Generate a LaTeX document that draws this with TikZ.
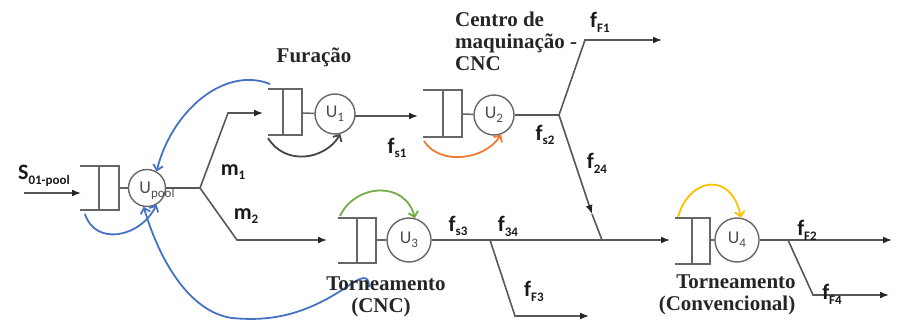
\documentclass[tikz,border=0pt]{standalone}
\usepackage{fontspec}
\setmainfont{Liberation Serif}
\newfontfamily\lblfont{Carlito}
\usetikzlibrary{arrows.meta}
\definecolor{lngray}{HTML}{585858}
\definecolor{qgray}{HTML}{666666}
\definecolor{ublue}{HTML}{4472C4}
\definecolor{uorange}{HTML}{ED7D31}
\definecolor{ugreen}{HTML}{70AD47}
\definecolor{uyellow}{HTML}{FFC000}
\definecolor{udark}{HTML}{454545}
\newcommand\mysub[1]{\raisebox{-0.45ex}{\fontsize{13}{13}\selectfont #1}}
\newcommand\mysubu[1]{\raisebox{-0.45ex}{\fontsize{13}{13}\selectfont #1}}
\tikzset{
  ln/.style={draw=lngray, line width=1.6pt},
  arr/.style={ln, -{Latex[length=9pt,width=7pt,color=black!85]}},
  qline/.style={draw=qgray, line width=1.5pt},
  srv/.style={circle, draw=qgray, line width=1.4pt, minimum size=40pt, inner sep=0pt,
     font=\lblfont\fontsize{18}{18}\selectfont, text=black!70},
  srvbig/.style={srv, minimum size=44pt},
  flab/.style={font=\lblfont\bfseries\fontsize{22}{22}\selectfont, text=black!90, inner sep=0pt},
  ttl/.style={font=\bfseries\fontsize{21}{22}\selectfont, text=black!85, inner sep=0pt, anchor=base},
  carr/.style={line width=1.8pt, -{Straight Barb[length=5pt,width=10pt]}},
}
\begin{document}
\begin{tikzpicture}[x=1pt,y=-1pt]
\useasboundingbox (0,0) rectangle (902,324);

% ---------- queues ----------
\draw[qline] (80,166) -| (119,210) -- (80,210); \draw[qline] (99,166) -- (99,210);
\draw[qline] (268,89) -| (302,135) -- (268,135); \draw[qline] (283,89) -- (283,135);
\draw[qline] (423,90) -| (462,137) -- (423,137); \draw[qline] (443,90) -- (443,137);
\draw[qline] (338,218) -| (376,263) -- (338,263); \draw[qline] (357,218) -- (357,263);
\draw[qline] (675,218) -| (710,264) -- (675,264); \draw[qline] (692,218) -- (692,264);
\coordinate (P0r) at (119,188);
\coordinate (Q1r) at (302,113);
\coordinate (Q2r) at (462,114);
\coordinate (Q3r) at (376,240);
\coordinate (Q4r) at (710,240);

% ---------- servers ----------
\node[srv, minimum size=37pt] (Up) at (147,188) {};
\node[font=\lblfont\fontsize{18}{18}\selectfont, text=black!70, inner sep=0pt] (Uplab) at (157,191) {U\mysubu{pool}};
\node[srv] (U1) at (335,114) {U\mysubu{1}};
\node[srv] (U2) at (494,115) {U\mysubu{2}};
\node[srvbig] (U3) at (409,240) {U\mysubu{3}};
\node[srvbig] (U4) at (737,240) {U\mysubu{4}};

\draw[qline] (P0r) -- (Up);
\draw[qline] (Q1r) -- (U1);
\draw[qline] (Q2r) -- (U2);
\draw[qline] (Q3r) -- (U3);
\draw[qline] (Q4r) -- (U4);

% ---------- coordinates of connectors ----------
\coordinate (Sin) at (24,193);
\coordinate (Pin) at (81,193);
\coordinate (B0) at (200,188);
\coordinate (K1) at (228,113);
\coordinate (Q1in) at (263,113);
\coordinate (K2) at (237,240);
\coordinate (Q3in) at (327,240);
\coordinate (Q2in) at (418,116);
\coordinate (U1o) at (355,116);
\coordinate (B2) at (559,115);
\coordinate (K3) at (585,40);
\coordinate (F1) at (662,40);
\coordinate (M24) at (592,214);
\coordinate (J24) at (602,240);
\coordinate (B3) at (490,240);
\coordinate (K4) at (515,316);
\coordinate (F3) at (589,316);
\coordinate (Q4in) at (670,240);
\coordinate (B4) at (788,240);
\coordinate (F2) at (892,240);
\coordinate (K5) at (813,295);
\coordinate (F4) at (889,295);

% ---------- connectors ----------
\draw[arr] (Sin) -- (Pin);
\draw[ln] (Up) -- (B0);
\draw[arr] (B0) -- (K1) -- (Q1in);
\draw[arr] (B0) -- (K2) -- (Q3in);
\draw[arr] (U1o) -- (Q2in);
\draw[ln] (U2) -- (B2);
\draw[arr] (B2) -- (K3) -- (F1);
\draw[arr] (B2) -- (M24);
\draw[ln] (M24) -- (J24);
\draw[arr] (U3) -- (Q4in);
\draw[arr] (B3) -- (K4) -- (F3);
\draw[arr] (U4) -- (F2);
\draw[arr] (B4) -- (K5) -- (F4);

% ---------- curved arrows ----------
\draw[carr, udark] (268,138) .. controls (285,166) and (325,160) .. (U1.-75);
\draw[carr, uorange] (424,141) .. controls (440,166) and (485,160) .. (U2.-70);
\draw[carr, ugreen] (340,216) .. controls (355,184) and (405,180) .. (U3.75);
\draw[carr, uyellow] (678,217) .. controls (690,176) and (732,172) .. (U4.80);
\draw[carr, ublue] (270,84) .. controls (225,66) and (172,110) .. (Up.60);
\draw[carr, ublue] (85,214) .. controls (95,246) and (140,238) .. (Up.-60);
\draw[carr, ublue] (369,287) .. controls (369,274) and (362,276) .. (345,288)
   .. controls (300,318) and (265,321) .. (232,318)
   .. controls (190,312) and (160,262) .. (Up.-100);

% ---------- labels ----------
\node[flab] (lS) at (44,176) {S\mysub{01-pool}};
\node[flab] (lm1) at (233,172) {m\mysub{1}};
\node[flab] (lm2) at (246,216) {m\mysub{2}};
\node[flab] (lfs1) at (397,148) {f\mysub{s1}};
\node[flab] (lfs2) at (545,135) {f\mysub{s2}};
\node[flab] (lf24) at (597,163) {f\mysub{24}};
\node[flab] (lfF1) at (600,22) {f\mysub{F1}};
\node[flab] (lfs3) at (458,226) {f\mysub{s3}};
\node[flab] (lf34) at (508,226) {f\mysub{34}};
\node[flab] (lfF3) at (534,291) {f\mysub{F3}};
\node[flab] (lfF2) at (807,230) {f\mysub{F2}};
\node[flab] (lfF4) at (832,294) {f\mysub{F4}};

% ---------- titles ----------
\node[ttl] (tFur) at (314,62) {Furação};
\node[ttl, anchor=base west] (tC1) at (455,26) {Centro de};
\node[ttl, anchor=base west] (tC2) at (455,48) {maquinação -};
\node[ttl, anchor=base west] (tC3) at (455,70) {CNC};
\node[ttl] (tT1) at (386,290) {Torneamento};
\node[ttl] (tT2) at (381,312) {(CNC)};
\node[ttl] (tV1) at (736,288) {Torneamento};
\node[ttl] (tV2) at (727,310) {(Convencional)};
\end{tikzpicture}
\end{document}
